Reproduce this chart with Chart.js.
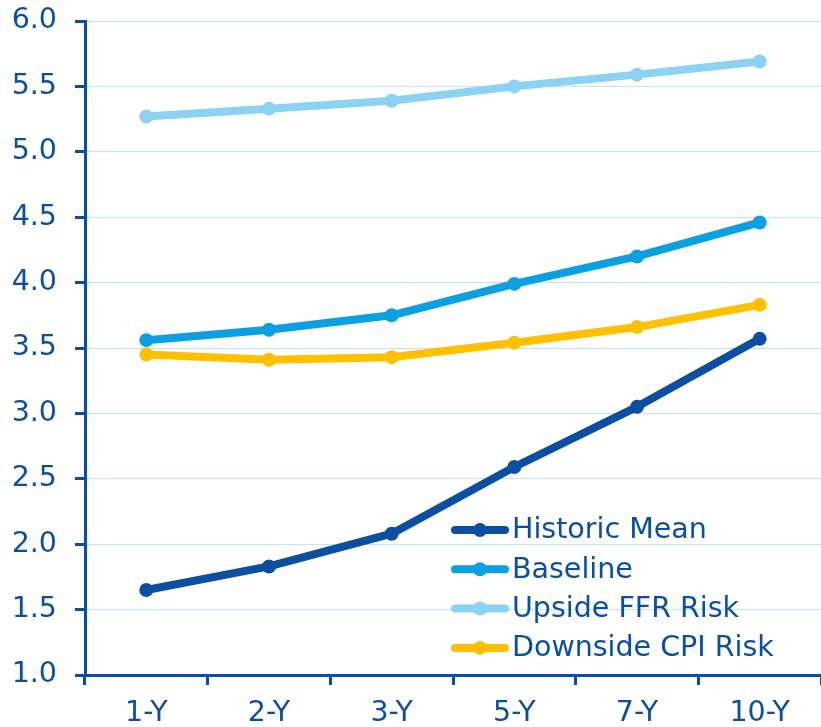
<!DOCTYPE html>
<html>
<head>
<meta charset="utf-8">
<script src="https://cdn.jsdelivr.net/npm/chart.js@4/dist/chart.umd.min.js"></script>
<style>
html,body{margin:0;padding:0;background:#fff;overflow:hidden;}
#wrap{width:821px;height:727px;position:relative;overflow:hidden;}
</style>
</head>
<body>
<div id="wrap"><canvas id="c" width="828" height="727"></canvas></div>
<script>
const categories = ["1-Y", "2-Y", "3-Y", "5-Y", "7-Y", "10-Y"];
const historicMean = [1.65, 1.83, 2.08, 2.59, 3.05, 3.57];
const baseline = [3.56, 3.64, 3.75, 3.99, 4.20, 4.46];
const upsideFFR = [5.27, 5.33, 5.39, 5.50, 5.59, 5.69];
const downsideCPI = [3.45, 3.41, 3.43, 3.54, 3.66, 3.83];
const seriesNames = ["Historic Mean", "Baseline", "Upside FFR Risk", "Downside CPI Risk"];
const seriesColors = ["#0B4EA2", "#0AA0E2", "#8CD2F2", "#FFC000"];

const TEXT = "#0B4FA3";
const GRID = "#BFE6F8";
const FONT = "'DejaVu Sans', 'Open Sans', sans-serif";
const FSIZE = 28.5;

function mk(i, data){
  return {
    label: seriesNames[i], data: data,
    borderColor: seriesColors[i], backgroundColor: seriesColors[i],
    borderWidth: 8, pointRadius: 7, pointHoverRadius: 7, pointBorderWidth: 0,
    tension: 0, fill: false, borderCapStyle: 'round', borderJoinStyle: 'round'
  };
}

const legendPlugin = {
  id: 'customLegend',
  afterDatasetsDraw(chart){
    const ctx = chart.ctx;
    const ca = chart.chartArea;
    const x0 = ca.left + 366, y0 = ca.top + 509, dy = 39.3;
    ctx.save();
    chart.data.datasets.forEach((ds, i) => {
      const y = y0 + i*dy;
      ctx.strokeStyle = ds.borderColor;
      ctx.lineWidth = 8; ctx.lineCap = 'round';
      ctx.beginPath(); ctx.moveTo(x0+4, y); ctx.lineTo(x0+54, y); ctx.stroke();
      ctx.fillStyle = ds.borderColor;
      ctx.beginPath(); ctx.arc(x0+29, y, 7, 0, Math.PI*2); ctx.fill();
      ctx.fillStyle = TEXT;
      ctx.font = FSIZE + "px " + FONT;
      ctx.textBaseline = 'middle'; ctx.textAlign = 'left';
      ctx.fillText(ds.label, x0+61, y+1);
    });
    ctx.restore();
  }
};

new Chart(document.getElementById('c'), {
  type: 'line',
  data: {
    labels: categories,
    datasets: [mk(0, historicMean), mk(1, baseline), mk(2, upsideFFR), mk(3, downsideCPI)]
  },
  options: {
    responsive: false, animation: false,
    layout: { padding: { top: 21, right: 0, left: 0, bottom: 0 } },
    plugins: { legend: { display: false }, tooltip: { enabled: false } },
    scales: {
      x: {
        offset: true,
        grid: { offset: true, drawOnChartArea: false, tickLength: 10, tickColor: TEXT, tickWidth: 3 },
        border: { color: TEXT, width: 3 },
        ticks: { color: TEXT, font: { size: FSIZE, family: FONT }, padding: 11, maxRotation: 0 },
        afterFit(s){ s.height = 52; s.paddingRight = 0; s.paddingLeft = 0; }
      },
      y: {
        min: 1, max: 6,
        grid: { color: GRID, lineWidth: 1, tickLength: 10, tickColor: TEXT, tickWidth: 3 },
        border: { color: TEXT, width: 3 },
        ticks: { stepSize: 0.5, color: TEXT, font: { size: FSIZE, family: FONT }, padding: 18,
                 callback: v => Number(v).toFixed(1) },
        afterFit(s){ s.width = 85; s.paddingTop = 0; s.paddingBottom = 0; }
      }
    }
  },
  plugins: [legendPlugin]
});
</script>
</body>
</html>
